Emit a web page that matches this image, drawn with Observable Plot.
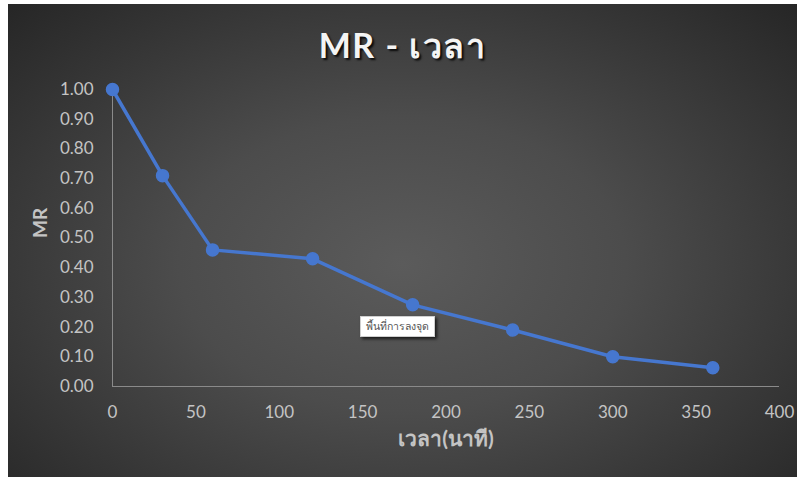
<!DOCTYPE html>
<html>
<head>
<meta charset="utf-8">
<script src="https://cdn.jsdelivr.net/npm/d3@7"></script>
<script src="https://cdn.jsdelivr.net/npm/@observablehq/plot@0.6"></script>
<style>
  body { margin: 0; background: #ffffff; }
  #chart {
    position: absolute; left: 8px; top: 4px; width: 789px; height: 473px;
    overflow: hidden;
    background: radial-gradient(ellipse farthest-corner at 50% 55%, #5b5b5b 0%, #4c4c4c 40%, #262626 100%);
    font-family: Lato, "Open Sans", sans-serif;
  }
  #title {
    position: absolute; left: 0; right: 0; top: 15px; text-align: center;
    color: #f4f4f4; font-weight: bold; font-size: 34px; letter-spacing: 1.5px;
    text-shadow: 2px 2px 2px rgba(0,0,0,0.85);
  }
  #tip {
    position: absolute; left: 352px; top: 312px; padding: 1px 5px;
    background: #ffffff; color: #555555; font-size: 10.5px;
    border: 1px solid #cfcfcf; box-shadow: 2px 2px 3px rgba(0,0,0,0.7);
  }
  #plot { position: absolute; left: 0; top: 0; }
</style>
</head>
<body>
<div id="chart">
  <div id="plot"></div>
  <div id="title"></div>
  <div id="tip"></div>
</div>
<script>
// Moisture ratio over drying time
const chartTitle = "MR - เวลา";
const xTitle = "เวลา(นาที)";
const yTitle = "MR";
const tipText = "พื้นที่การลงจุด";
const times = [0, 30, 60, 120, 180, 240, 300, 360];
const mr = [1.00, 0.71, 0.46, 0.43, 0.275, 0.19, 0.10, 0.063];
const xTicks = [0, 50, 100, 150, 200, 250, 300, 350, 400];
const yTicks = [0, 0.1, 0.2, 0.3, 0.4, 0.5, 0.6, 0.7, 0.8, 0.9, 1.0];

const rows = times.map((t, i) => ({t, mr: mr[i]}));
const blue = "#4677cf";
const axisColor = "#8a8a8a";
const labelColor = "#c4c4c4";

document.getElementById("title").textContent = chartTitle;
document.getElementById("tip").textContent = tipText;

const chart = Plot.plot({
  width: 789,
  height: 473,
  marginLeft: 104,
  marginRight: 18,
  marginTop: 85,
  marginBottom: 91,
  style: {background: "transparent", color: labelColor, fontFamily: "Lato, 'Open Sans', sans-serif", fontSize: "17px"},
  x: {domain: [0, 400]},
  y: {domain: [0, 1]},
  marks: [
    Plot.ruleY([0], {stroke: axisColor, strokeWidth: 1}),
    Plot.ruleX([0], {stroke: axisColor, strokeWidth: 1}),
    Plot.axisX(xTicks, {tickSize: 0, tickPadding: 19, label: null, fill: labelColor}),
    Plot.axisY(yTicks, {tickSize: 0, tickPadding: 19, label: null, fill: labelColor, tickFormat: d3.format(".2f")}),
    Plot.line(rows, {x: "t", y: "mr", stroke: blue, strokeWidth: 3.5}),
    Plot.dot(rows, {x: "t", y: "mr", r: 6, fill: blue, stroke: blue}),
    Plot.text([xTitle], {text: d => d, frameAnchor: "bottom", dy: 59, fill: labelColor, fontWeight: "bold", fontSize: 21}),
    Plot.text([yTitle], {text: d => d, frameAnchor: "left", dx: -72, rotate: -90, fill: labelColor, fontWeight: "bold", fontSize: 19})
  ]
});
document.getElementById("plot").appendChild(chart);
</script>
</body>
</html>
